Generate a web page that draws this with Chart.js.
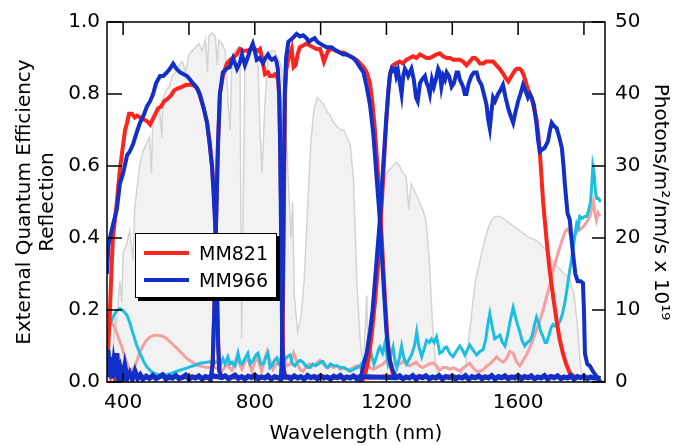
<!DOCTYPE html>
<html>
<head>
<meta charset="utf-8">
<script src="https://cdn.jsdelivr.net/npm/chart.js@4.4.1/dist/chart.umd.min.js"></script>
<style>
  body { margin: 0; background: #fff; }
  #wrap { position: relative; width: 692px; height: 445px; }
  #legendBox {
    position: absolute; left: 135px; top: 233px; width: 140px; height: 63px;
    border: 1px solid #000; background: #fff; box-shadow: 3px 3px 0 #000;
    font-family: 'DejaVu Sans', sans-serif; font-size: 19px; color: #000;
  }
  .row { position: absolute; left: 0; height: 24px; display: flex; align-items: center; }
  .swatch { display: inline-block; width: 45px; height: 4px; margin-left: 8px; margin-right: 10px; }
</style>
</head>
<body>
<div id="wrap">
  <canvas id="myChart"></canvas>
  <div id="legendBox"></div>
</div>
<script>
// solar photon flux (right axis, x 10^19)
const am15Photons = [[351,0.5],[360,1.5],[370,5],[375,9],[380,8],[390,14],[396,11],[400,18],[410,19],[420,21],[430,17],[435,24],[440,26],[450,30],[460,32],[470,33],[480,34],[486,29],[490,36],[500,37],[510,38],[518,34],[520,39],[530,40.5],[540,41],[550,42.5],[560,43],[570,44],[580,44.5],[590,43],[600,45.5],[610,46],[620,46.5],[630,47],[640,46],[650,47.5],[656,43],[660,48],[670,48.5],[680,48],[686,44],[690,47.5],[700,47],[710,46],[720,38],[725,35],[730,44],[740,46],[750,46.5],[755,45],[760,6],[765,25],[770,44],[780,46],[790,46.5],[800,46],[810,44],[815,36],[822,29],[830,38],[840,45],[850,46],[860,46],[870,45],[880,44],[890,40],[900,30],[910,20],[915,25],[920,12],[930,7],[940,9],[950,14],[960,24],[970,33],[980,38],[990,39.5],[1000,39],[1010,38.5],[1020,37.5],[1030,37],[1040,36],[1050,35.5],[1060,35],[1070,35],[1080,34],[1090,33],[1100,28],[1110,14],[1120,6],[1130,2],[1140,12],[1145,3],[1150,5],[1160,8],[1170,14],[1180,20],[1190,26],[1200,29],[1210,29.5],[1220,30],[1230,30.5],[1240,30],[1250,29],[1260,28.5],[1268,24],[1275,27.5],[1290,26],[1300,25],[1310,24],[1320,22.5],[1330,17],[1340,8],[1350,2],[1360,0.8],[1380,0.5],[1400,0.3],[1420,0.8],[1440,2],[1450,6],[1460,10],[1470,14],[1480,16],[1490,18],[1500,20],[1510,21.5],[1520,22.5],[1530,23],[1545,23],[1560,22.5],[1575,22],[1590,21.5],[1605,21],[1620,20.5],[1636,20],[1650,19.8],[1666,19.3],[1680,18.5],[1696,17.5],[1710,16.5],[1727,15.7],[1740,15],[1757,14.3],[1770,12],[1780,8],[1790,2],[1800,0.5],[1820,0.3],[1840,0.2],[1864,0.2]];

// MM821 EQE, one array per subcell
const mm821Top = [[351,0.05],[355,0.1],[360,0.2],[365,0.32],[369,0.40],[375,0.45],[381,0.5],[390,0.59],[400,0.66],[406,0.70],[412,0.72],[418,0.745],[427,0.745],[435,0.735],[442,0.74],[452,0.735],[462,0.73],[472,0.725],[482,0.715],[490,0.73],[498,0.745],[506,0.76],[515,0.765],[525,0.78],[533,0.785],[545,0.795],[555,0.81],[565,0.815],[579,0.82],[590,0.825],[600,0.826],[609,0.826],[618,0.822],[626,0.815],[635,0.79],[645,0.76],[655,0.72],[663,0.665],[670,0.60],[676,0.52],[681,0.43],[685,0.28],[689,0.10],[693,0.03],[700,0.01]];
const mm821Mid1 = [[665,0.0],[672,0.05],[677,0.2],[682,0.43],[688,0.66],[694,0.80],[703,0.85],[715,0.885],[725,0.895],[734,0.90],[745,0.91],[755,0.925],[765,0.92],[776,0.92],[788,0.925],[800,0.925],[810,0.92],[816,0.925],[822,0.90],[831,0.855],[840,0.86],[846,0.85],[855,0.85],[861,0.855],[866,0.85],[871,0.84],[875,0.78],[878,0.62],[881,0.40],[884,0.16],[887,0.05],[893,0.01]];
const mm821Mid2 = [[879,0.0],[883,0.05],[886,0.25],[889,0.55],[892,0.80],[896,0.87],[903,0.90],[912,0.925],[918,0.875],[924,0.88],[930,0.91],[937,0.93],[947,0.935],[957,0.94],[967,0.935],[977,0.93],[988,0.925],[998,0.925],[1004,0.91],[1010,0.89],[1016,0.905],[1023,0.92],[1035,0.925],[1048,0.92],[1060,0.915],[1070,0.915],[1079,0.91],[1090,0.905],[1100,0.90],[1109,0.895],[1120,0.885],[1130,0.875],[1140,0.86],[1150,0.83],[1158,0.77],[1165,0.70],[1172,0.61],[1180,0.50],[1188,0.36],[1195,0.24],[1203,0.12],[1210,0.06],[1220,0.02],[1235,0.01]];
const mm821Bottom = [[1125,0.0],[1135,0.02],[1145,0.06],[1155,0.13],[1165,0.22],[1175,0.33],[1183,0.45],[1190,0.57],[1198,0.70],[1205,0.80],[1212,0.86],[1220,0.88],[1228,0.885],[1240,0.89],[1250,0.885],[1260,0.895],[1271,0.90],[1281,0.905],[1291,0.90],[1302,0.91],[1312,0.905],[1322,0.90],[1332,0.90],[1342,0.905],[1352,0.91],[1362,0.913],[1372,0.905],[1383,0.90],[1393,0.90],[1403,0.895],[1413,0.895],[1423,0.895],[1433,0.89],[1443,0.88],[1453,0.89],[1462,0.90],[1469,0.90],[1476,0.895],[1484,0.885],[1494,0.885],[1503,0.89],[1514,0.89],[1524,0.89],[1534,0.88],[1544,0.87],[1554,0.857],[1562,0.845],[1570,0.835],[1580,0.85],[1590,0.865],[1596,0.87],[1605,0.87],[1611,0.865],[1618,0.85],[1626,0.825],[1634,0.80],[1641,0.79],[1648,0.76],[1656,0.73],[1661,0.69],[1666,0.64],[1671,0.57],[1676,0.50],[1681,0.45],[1688,0.38],[1696,0.31],[1706,0.24],[1717,0.17],[1726,0.12],[1736,0.08],[1746,0.05],[1757,0.025],[1770,0.015],[1780,0.01]];
const mm821Floor = [[351,0.03],[356,0.045],[362,0.02],[368,0.04],[375,0.01],[382,0.035],[390,0.01],[400,0.02],[420,0.012],[440,0.016],[460,0.01],[480,0.014],[500,0.012],[520,0.018],[540,0.01],[560,0.015],[580,0.011],[600,0.016],[650,0.012],[700,0.015],[750,0.012],[800,0.016],[850,0.011],[900,0.015],[950,0.012],[1000,0.016],[1050,0.011],[1100,0.015],[1150,0.012],[1200,0.016],[1250,0.011],[1300,0.015],[1350,0.012],[1400,0.016],[1450,0.011],[1500,0.015],[1550,0.012],[1600,0.016],[1650,0.011],[1700,0.015],[1750,0.012],[1800,0.014],[1850,0.01]];

// MM966 EQE
const mm966Top = [[351,0.3],[355,0.38],[360,0.40],[370,0.44],[381,0.48],[390,0.55],[400,0.58],[412,0.63],[420,0.64],[430,0.66],[440,0.69],[451,0.72],[462,0.74],[472,0.765],[482,0.78],[491,0.80],[500,0.83],[512,0.85],[522,0.85],[533,0.86],[542,0.87],[552,0.884],[562,0.87],[573,0.86],[584,0.855],[594,0.85],[603,0.84],[612,0.83],[622,0.82],[633,0.80],[645,0.76],[655,0.72],[663,0.66],[670,0.60],[675,0.52],[680,0.43],[684,0.30],[688,0.12],[692,0.03],[700,0.01]];
const mm966Mid1 = [[665,0.0],[672,0.05],[677,0.2],[682,0.43],[688,0.65],[694,0.80],[703,0.86],[714,0.87],[724,0.875],[734,0.90],[746,0.87],[754,0.885],[761,0.91],[770,0.88],[778,0.90],[785,0.92],[794,0.94],[800,0.92],[806,0.895],[815,0.90],[825,0.885],[832,0.90],[840,0.91],[846,0.90],[852,0.895],[861,0.90],[866,0.89],[870,0.87],[874,0.80],[877,0.65],[880,0.40],[883,0.15],[886,0.04],[892,0.01]];
const mm966Mid2 = [[878,0.0],[882,0.05],[885,0.25],[888,0.55],[891,0.80],[895,0.90],[902,0.945],[912,0.953],[920,0.96],[927,0.967],[937,0.96],[947,0.963],[957,0.955],[965,0.945],[972,0.95],[982,0.955],[990,0.945],[998,0.94],[1008,0.935],[1018,0.93],[1033,0.93],[1040,0.925],[1048,0.92],[1058,0.915],[1069,0.91],[1079,0.91],[1089,0.905],[1099,0.90],[1109,0.89],[1119,0.875],[1130,0.86],[1140,0.82],[1150,0.77],[1160,0.69],[1170,0.57],[1180,0.45],[1190,0.29],[1200,0.14],[1208,0.07],[1216,0.04],[1230,0.01]];
const mm966Bottom = [[1120,0.0],[1128,0.04],[1140,0.08],[1150,0.14],[1158,0.2],[1165,0.28],[1172,0.36],[1180,0.45],[1190,0.60],[1200,0.74],[1206,0.81],[1210,0.85],[1216,0.87],[1220,0.865],[1226,0.87],[1230,0.85],[1235,0.865],[1241,0.83],[1246,0.80],[1251,0.85],[1256,0.87],[1262,0.86],[1266,0.85],[1271,0.86],[1276,0.87],[1283,0.84],[1290,0.79],[1295,0.78],[1302,0.83],[1308,0.84],[1317,0.85],[1322,0.83],[1327,0.82],[1332,0.80],[1338,0.84],[1344,0.82],[1350,0.84],[1357,0.87],[1362,0.86],[1367,0.82],[1373,0.85],[1378,0.84],[1383,0.86],[1390,0.85],[1398,0.82],[1405,0.83],[1413,0.86],[1418,0.86],[1423,0.84],[1428,0.83],[1433,0.82],[1438,0.80],[1443,0.80],[1450,0.83],[1458,0.85],[1466,0.86],[1474,0.86],[1480,0.84],[1489,0.825],[1496,0.80],[1504,0.77],[1509,0.73],[1514,0.705],[1519,0.75],[1524,0.79],[1530,0.78],[1539,0.80],[1546,0.81],[1554,0.825],[1562,0.79],[1570,0.76],[1577,0.74],[1585,0.72],[1592,0.75],[1600,0.78],[1607,0.80],[1615,0.825],[1622,0.81],[1630,0.79],[1636,0.80],[1641,0.79],[1648,0.77],[1656,0.715],[1661,0.67],[1666,0.64],[1672,0.645],[1680,0.65],[1686,0.66],[1691,0.67],[1697,0.70],[1702,0.72],[1710,0.71],[1717,0.705],[1725,0.68],[1733,0.65],[1738,0.60],[1742,0.55],[1750,0.47],[1757,0.45],[1762,0.40],[1767,0.355],[1774,0.30],[1781,0.28],[1790,0.28],[1797,0.275],[1800,0.20],[1803,0.08],[1810,0.05],[1818,0.045],[1827,0.03],[1835,0.02],[1842,0.01],[1850,0.0]];
const mm966Floor = [[351,0.02],[354,0.09],[358,0.03],[362,0.07],[366,0.01],[371,0.05],[376,0.015],[381,0.08],[386,0.01],[392,0.035],[398,0.01],[405,0.045],[412,0.01],[420,0.025],[428,0.008],[436,0.03],[444,0.01],[452,0.02],[460,0.008],[470,0.016],[480,0.01],[490,0.018],[500,0.009],[510,0.014],[520,0.02],[530,0.008],[540,0.015],[550,0.011],[560,0.018],[570,0.009],[580,0.013],[590,0.019],[600,0.008],[610,0.014],[620,0.011],[630,0.017],[640,0.008],[650,0.015],[660,0.012],[670,0.018],[700,0.012],[710,0.017],[720,0.009],[730,0.014],[740,0.019],[750,0.01],[760,0.015],[770,0.008],[780,0.016],[790,0.012],[800,0.019],[810,0.009],[820,0.014],[830,0.011],[840,0.018],[850,0.008],[860,0.015],[870,0.012],[900,0.014],[910,0.009],[920,0.017],[930,0.011],[940,0.015],[950,0.008],[960,0.018],[970,0.012],[980,0.015],[990,0.009],[1000,0.017],[1010,0.011],[1020,0.014],[1030,0.008],[1040,0.016],[1050,0.012],[1060,0.018],[1070,0.009],[1080,0.014],[1090,0.011],[1100,0.017],[1110,0.009],[1120,0.015],[1230,0.012],[1240,0.017],[1250,0.009],[1260,0.014],[1270,0.011],[1280,0.018],[1290,0.008],[1300,0.015],[1310,0.012],[1320,0.017],[1330,0.009],[1340,0.014],[1350,0.011],[1360,0.018],[1370,0.008],[1380,0.015],[1390,0.012],[1400,0.016],[1410,0.009],[1420,0.014],[1430,0.011],[1440,0.018],[1450,0.008],[1460,0.015],[1470,0.012],[1480,0.017],[1490,0.009],[1500,0.014],[1510,0.011],[1520,0.018],[1530,0.008],[1540,0.015],[1550,0.012],[1560,0.017],[1570,0.009],[1580,0.014],[1590,0.011],[1600,0.018],[1610,0.008],[1620,0.015],[1630,0.012],[1640,0.017],[1650,0.009],[1660,0.014],[1670,0.011],[1680,0.018],[1690,0.008],[1700,0.015],[1710,0.012],[1720,0.017],[1730,0.009],[1740,0.014],[1750,0.011],[1760,0.018],[1770,0.008],[1780,0.015],[1790,0.012],[1800,0.016],[1810,0.009],[1820,0.014],[1830,0.011],[1840,0.012],[1850,0.01]];

// reflection
const mm966Refl = [[351,0.135],[360,0.16],[369,0.18],[380,0.198],[390,0.204],[400,0.198],[412,0.185],[420,0.165],[430,0.135],[440,0.105],[451,0.08],[462,0.058],[472,0.042],[482,0.032],[491,0.025],[505,0.021],[520,0.02],[533,0.02],[550,0.025],[573,0.033],[590,0.038],[603,0.042],[620,0.047],[633,0.052],[650,0.054],[664,0.056],[675,0.05],[685,0.058],[695,0.045],[703,0.065],[710,0.05],[718,0.07],[725,0.05],[731,0.055],[740,0.045],[749,0.08],[755,0.055],[761,0.05],[770,0.065],[779,0.08],[786,0.05],[795,0.06],[803,0.075],[810,0.08],[818,0.05],[826,0.05],[834,0.07],[840,0.08],[846,0.04],[852,0.045],[860,0.06],[867,0.067],[875,0.048],[882,0.05],[890,0.06],[898,0.07],[907,0.075],[915,0.05],[922,0.045],[930,0.055],[938,0.06],[946,0.055],[955,0.045],[962,0.04],[968,0.04],[976,0.05],[985,0.045],[993,0.05],[1000,0.055],[1007,0.057],[1015,0.045],[1022,0.04],[1030,0.05],[1040,0.045],[1050,0.045],[1060,0.04],[1070,0.04],[1080,0.035],[1089,0.03],[1100,0.035],[1110,0.04],[1120,0.045],[1129,0.057],[1137,0.07],[1143,0.08],[1150,0.093],[1156,0.07],[1162,0.05],[1170,0.07],[1176,0.09],[1180,0.097],[1188,0.08],[1196,0.11],[1200,0.08],[1205,0.05],[1212,0.07],[1220,0.097],[1226,0.06],[1232,0.04],[1240,0.07],[1246,0.10],[1252,0.07],[1261,0.05],[1270,0.065],[1277,0.077],[1285,0.10],[1292,0.14],[1298,0.1],[1307,0.07],[1314,0.09],[1322,0.116],[1330,0.11],[1337,0.12],[1345,0.11],[1352,0.125],[1358,0.10],[1362,0.08],[1370,0.085],[1377,0.095],[1383,0.097],[1392,0.08],[1402,0.07],[1412,0.085],[1423,0.10],[1430,0.09],[1438,0.075],[1446,0.09],[1453,0.103],[1462,0.09],[1474,0.075],[1484,0.085],[1494,0.09],[1502,0.12],[1508,0.16],[1514,0.19],[1520,0.16],[1529,0.12],[1537,0.125],[1545,0.13],[1552,0.11],[1560,0.10],[1568,0.13],[1576,0.17],[1585,0.207],[1592,0.18],[1598,0.16],[1605,0.14],[1612,0.115],[1620,0.10],[1628,0.11],[1636,0.115],[1643,0.13],[1650,0.16],[1656,0.18],[1662,0.165],[1669,0.14],[1676,0.125],[1682,0.11],[1687,0.11],[1694,0.13],[1700,0.15],[1706,0.16],[1713,0.155],[1720,0.16],[1728,0.17],[1735,0.19],[1742,0.22],[1748,0.255],[1755,0.30],[1763,0.345],[1770,0.39],[1778,0.44],[1783,0.43],[1787,0.46],[1795,0.455],[1802,0.46],[1809,0.46],[1815,0.48],[1820,0.50],[1824,0.55],[1827,0.60],[1831,0.58],[1835,0.53],[1839,0.51],[1845,0.51],[1850,0.50]];
const mm821Refl = [[351,0.19],[354,0.185],[362,0.17],[370,0.16],[375,0.15],[385,0.125],[396,0.098],[405,0.07],[415,0.042],[422,0.035],[427,0.033],[434,0.04],[442,0.06],[450,0.08],[460,0.10],[470,0.115],[482,0.125],[494,0.13],[506,0.13],[520,0.127],[533,0.12],[548,0.107],[564,0.093],[580,0.078],[594,0.065],[610,0.055],[624,0.047],[640,0.043],[655,0.04],[668,0.04],[679,0.04],[690,0.035],[700,0.03],[708,0.04],[715,0.056],[722,0.04],[731,0.033],[738,0.05],[746,0.07],[753,0.05],[761,0.035],[768,0.05],[776,0.07],[784,0.05],[791,0.03],[798,0.05],[806,0.07],[814,0.05],[821,0.03],[829,0.06],[838,0.085],[846,0.06],[855,0.035],[866,0.05],[876,0.06],[886,0.078],[897,0.045],[908,0.05],[918,0.08],[928,0.055],[937,0.035],[946,0.03],[955,0.04],[965,0.05],[975,0.045],[985,0.05],[998,0.06],[1008,0.05],[1018,0.04],[1030,0.045],[1040,0.04],[1050,0.045],[1060,0.035],[1070,0.04],[1080,0.035],[1090,0.035],[1100,0.04],[1110,0.045],[1120,0.04],[1130,0.035],[1140,0.04],[1150,0.04],[1160,0.035],[1170,0.04],[1180,0.045],[1190,0.05],[1200,0.06],[1210,0.055],[1220,0.05],[1230,0.045],[1240,0.05],[1251,0.057],[1260,0.05],[1270,0.045],[1280,0.05],[1290,0.055],[1300,0.045],[1310,0.04],[1320,0.045],[1330,0.05],[1342,0.053],[1352,0.045],[1362,0.033],[1372,0.04],[1383,0.04],[1393,0.035],[1403,0.04],[1413,0.035],[1423,0.03],[1433,0.04],[1443,0.045],[1453,0.052],[1463,0.04],[1474,0.03],[1485,0.03],[1495,0.035],[1505,0.045],[1514,0.05],[1525,0.06],[1535,0.07],[1545,0.06],[1555,0.055],[1565,0.065],[1575,0.085],[1585,0.08],[1596,0.055],[1605,0.045],[1615,0.06],[1625,0.075],[1636,0.097],[1646,0.12],[1656,0.145],[1666,0.17],[1676,0.20],[1686,0.235],[1696,0.27],[1706,0.31],[1717,0.345],[1727,0.375],[1736,0.40],[1744,0.42],[1751,0.425],[1758,0.41],[1766,0.40],[1774,0.41],[1781,0.42],[1790,0.425],[1797,0.43],[1805,0.44],[1812,0.45],[1818,0.46],[1824,0.48],[1829,0.50],[1833,0.47],[1838,0.45],[1843,0.47],[1848,0.46]];

const xTicks = { min: 351, max: 1864, step: 200, labelEvery: 400 };

const RED = 'rgb(250, 38, 30)';
const BLUE = 'rgb(18, 48, 200)';
const CYAN = 'rgb(30, 190, 225)';
const PINK = 'rgb(245, 160, 160)';

Chart.defaults.font.family = "'DejaVu Sans', sans-serif";
Chart.defaults.color = '#000';

function line(label, data, color, width, axis) {
    return {
        label: label,
        data: data,
        borderColor: color,
        backgroundColor: color,
        borderWidth: width,
        pointRadius: 0,
        tension: 0,
        fill: false,
        clip: 0,
        yAxisID: axis || 'y'
    };
}

// first dataset is drawn on top
const datasets = [
    line('MM966', mm966Top, BLUE, 4),
    line('', mm966Mid1, BLUE, 4),
    line('', mm966Mid2, BLUE, 4),
    line('', mm966Bottom, BLUE, 4),
    line('', mm966Floor, BLUE, 5),
    line('MM821', mm821Top, RED, 4),
    line('', mm821Mid1, RED, 4),
    line('', mm821Mid2, RED, 4),
    line('', mm821Bottom, RED, 4),
    line('', mm821Floor, RED, 4),
    line('', mm966Refl, CYAN, 3),
    line('', mm821Refl, PINK, 3),
    {
        label: '',
        data: am15Photons,
        borderColor: '#d4d4d4',
        backgroundColor: '#f2f2f2',
        borderWidth: 1.5,
        pointRadius: 0,
        tension: 0,
        fill: 'origin',
        yAxisID: 'y2'
    }
];

const frameTicks = {
    id: 'frameTicks',
    afterDatasetsDraw(chart) {
        const { ctx, chartArea: a, scales } = chart;
        ctx.save();
        ctx.strokeStyle = '#000';
        ctx.lineWidth = 1.5;
        ctx.beginPath();
        scales.x.ticks.forEach(t => {
            const px = scales.x.getPixelForValue(t.value);
            ctx.moveTo(px, a.bottom); ctx.lineTo(px, a.bottom - 9);
            ctx.moveTo(px, a.top); ctx.lineTo(px, a.top + 13);
        });
        scales.y.ticks.forEach(t => {
            const py = scales.y.getPixelForValue(t.value);
            ctx.moveTo(a.left, py); ctx.lineTo(a.left + 15, py);
        });
        scales.y2.ticks.forEach(t => {
            const py = scales.y2.getPixelForValue(t.value);
            ctx.moveTo(a.right, py); ctx.lineTo(a.right - 13, py);
        });
        ctx.stroke();
        ctx.strokeRect(a.left, a.top, a.right - a.left, a.bottom - a.top);
        ctx.restore();
    }
};

const tickFont = { size: 20 };
const titleFont = { size: 20, lineHeight: 1.15 };

const config = {
    type: 'line',
    data: { datasets: datasets },
    options: {
        responsive: true,
        maintainAspectRatio: false,
        animation: false,
        layout: { padding: { top: 20, right: 0, bottom: 0, left: 0 } },
        plugins: { legend: { display: false }, tooltip: { enabled: false } },
        scales: {
            x: {
                type: 'linear',
                min: xTicks.min,
                max: xTicks.max,
                grid: { display: false, drawTicks: false },
                border: { display: false },
                ticks: {
                    stepSize: xTicks.step,
                    includeBounds: false,
                    autoSkip: false,
                    maxRotation: 0,
                    padding: 9,
                    font: tickFont,
                    callback: v => (v % xTicks.labelEvery === 0 ? v : '')
                },
                title: { display: true, text: 'Wavelength (nm)', font: titleFont, padding: { top: 0, bottom: 0 } },
                afterFit: s => { s.height = 63; }
            },
            y: {
                position: 'left',
                min: 0,
                max: 1,
                grid: { display: false, drawTicks: false },
                border: { display: false },
                ticks: { stepSize: 0.2, padding: 7, font: tickFont, callback: v => v.toFixed(1) },
                title: { display: true, text: ['External Quantum Efficiency', 'Reflection'], font: titleFont, padding: { top: 13 } },
                afterFit: s => { s.width = 107; }
            },
            y2: {
                position: 'right',
                min: 0,
                max: 50,
                grid: { display: false, drawTicks: false },
                border: { display: false },
                ticks: { stepSize: 10, padding: 10, font: tickFont },
                title: { display: true, text: 'Photons/m²/nm/s x 10¹⁹', font: titleFont, padding: { top: 20 } },
                afterFit: s => { s.width = 87; }
            }
        }
    },
    plugins: [frameTicks]
};

const myChart = new Chart(document.getElementById('myChart').getContext('2d'), config);

// legend box inside the plot
const legendBox = document.getElementById('legendBox');
[datasets[5], datasets[0]].forEach((d, i) => {
    const row = document.createElement('div');
    row.className = 'row';
    row.style.top = (7 + i * 27) + 'px';
    row.innerHTML = '<span class="swatch" style="background:' + d.borderColor + '"></span>' + d.label;
    legendBox.appendChild(row);
});
</script>
</body>
</html>
